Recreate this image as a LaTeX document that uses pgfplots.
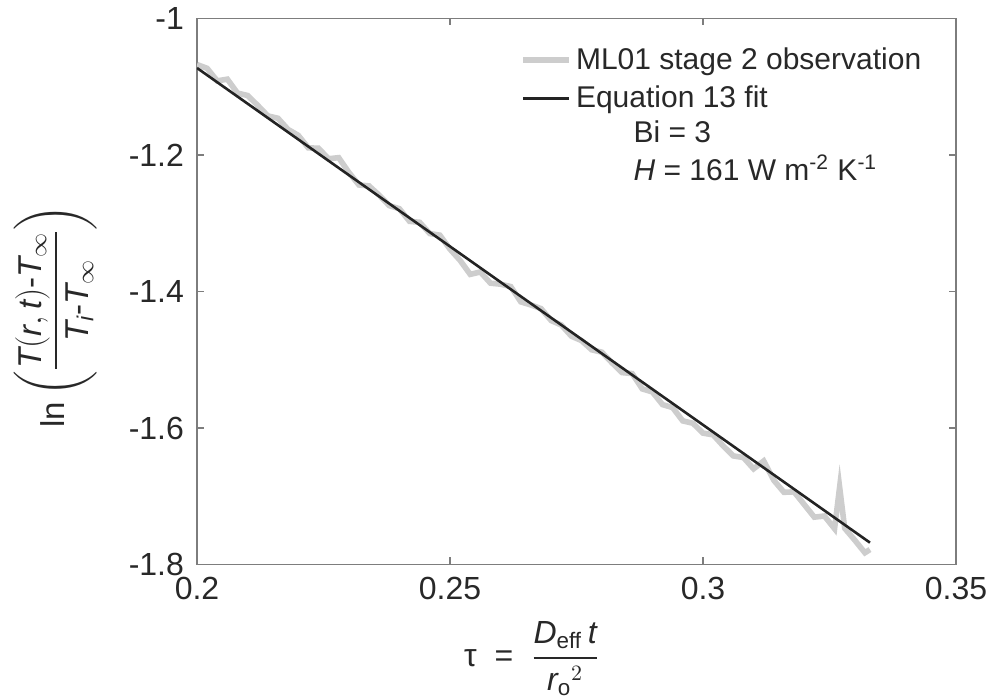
\documentclass[border=0pt]{standalone}
\usepackage{amsmath}
\usepackage{pgfplots}
\pgfplotsset{compat=1.18}
\usepackage{fontspec}
\setmainfont{Liberation Sans}
\definecolor{obs}{RGB}{205,205,205}
\definecolor{fit}{RGB}{35,35,35}
\definecolor{axc}{RGB}{125,125,125}
\definecolor{txt}{RGB}{40,40,40}
\pgfplotstableread{
x y
0.200 -1.0675
0.202 -1.0730
0.204 -1.0914
0.206 -1.0889
0.208 -1.1093
0.210 -1.1128
0.212 -1.1273
0.214 -1.1427
0.216 -1.1462
0.218 -1.1626
0.220 -1.1711
0.222 -1.1896
0.224 -1.1900
0.226 -1.2055
0.228 -1.2039
0.230 -1.2254
0.232 -1.2439
0.234 -1.2453
0.236 -1.2588
0.238 -1.2742
0.240 -1.2787
0.242 -1.2972
0.244 -1.2986
0.246 -1.3151
0.248 -1.3175
0.250 -1.3380
0.252 -1.3545
0.254 -1.3749
0.256 -1.3714
0.258 -1.3878
0.260 -1.3893
0.262 -1.3928
0.264 -1.4152
0.266 -1.4197
0.268 -1.4251
0.270 -1.4426
0.272 -1.4491
0.274 -1.4655
0.276 -1.4720
0.278 -1.4854
0.280 -1.4889
0.282 -1.5044
0.284 -1.5188
0.286 -1.5203
0.288 -1.5427
0.290 -1.5472
0.292 -1.5657
0.294 -1.5701
0.296 -1.5896
0.298 -1.5930
0.300 -1.6075
0.302 -1.6100
0.304 -1.6264
0.306 -1.6409
0.308 -1.6433
0.310 -1.6598
0.312 -1.6483
0.314 -1.6767
0.316 -1.6942
0.318 -1.6936
0.320 -1.7121
0.322 -1.7306
0.324 -1.7290
0.326 -1.7475
0.327 -1.6867
0.328 -1.7469
0.330 -1.7644
0.332 -1.7828
0.333 -1.7781
}\obsdata
\begin{document}
\begin{tikzpicture}
\begin{axis}[
  scale only axis, width=379.5pt, height=273pt,
  xmin=0.2, xmax=0.35, ymin=-1.8, ymax=-1,
  xtick={0.2,0.25,0.3,0.35}, xticklabels={0.2,0.25,0.3,0.35},
  ytick={-1.8,-1.6,-1.4,-1.2,-1}, yticklabels={-1.8,-1.6,-1.4,-1.2,-1},
  /pgf/number format/assume math mode=true,
  tick align=inside, major tick length=3.5pt,
  axis line style={axc, line width=0.6pt},
  tick style={axc, line width=0.6pt},
  ticklabel style={font=\fontsize{16}{18}\selectfont, text=txt},
  xticklabel style={yshift=-3pt},
  yticklabel style={xshift=-3pt},
  xlabel={\fontsize{16}{18}\selectfont τ \ = \ $\dfrac{\textit{D}_{\text{eff}}\,\textit{t}}{{\textit{r}_{\text{o}}}^{2}}$},
  xlabel style={at={(axis description cs:0.441,-0.172)}, anchor=center, text=txt},
  ylabel={\fontsize{16.5}{18}\selectfont ln\,$\left(\dfrac{\textit{T}(\textit{r},\textit{t})\text{-}\textit{T}_{\infty}}{\textit{T}_{\textit{i}}\text{-}\textit{T}_{\infty}}\right)$},
  ylabel style={at={(axis description cs:-0.186,0.455)}, anchor=center, text=txt},
  legend style={at={(rel axis cs:0.4256,0.955)}, anchor=north west, draw=none, fill=none,
    inner sep=0pt, font=\fontsize{15}{19}\selectfont, text=txt,
    row sep=3pt},
  legend cell align=left,
  legend image code/.code={\draw[#1] (0pt,0pt) -- (23pt,0pt);},
]
\addplot[obs, line width=2.8pt] table[x=x,y=y]{\obsdata};
\addlegendentry{ML01 stage 2 observation}
\addplot[fit, line width=1.3pt] coordinates {(0.2,-1.0725) (0.333,-1.768)};
\addlegendentry{Equation 13 fit}
\node[anchor=west, text=txt, font=\fontsize{15}{19}\selectfont, inner sep=0pt] at (axis cs:0.2862,-1.1663) {Bi = 3};
\node[anchor=west, text=txt, font=\fontsize{15}{19}\selectfont, inner sep=0pt] at (axis cs:0.2862,-1.219) {\textit{H} = 161 W m\textsuperscript{-2} K\textsuperscript{-1}};
\end{axis}
\pgfresetboundingbox
\path[use as bounding box] ([shift={(-98.5pt,-65.75pt)}]current axis.south west) rectangle ([shift={(17.5pt,9.25pt)}]current axis.north east);
\end{tikzpicture}
\end{document}
